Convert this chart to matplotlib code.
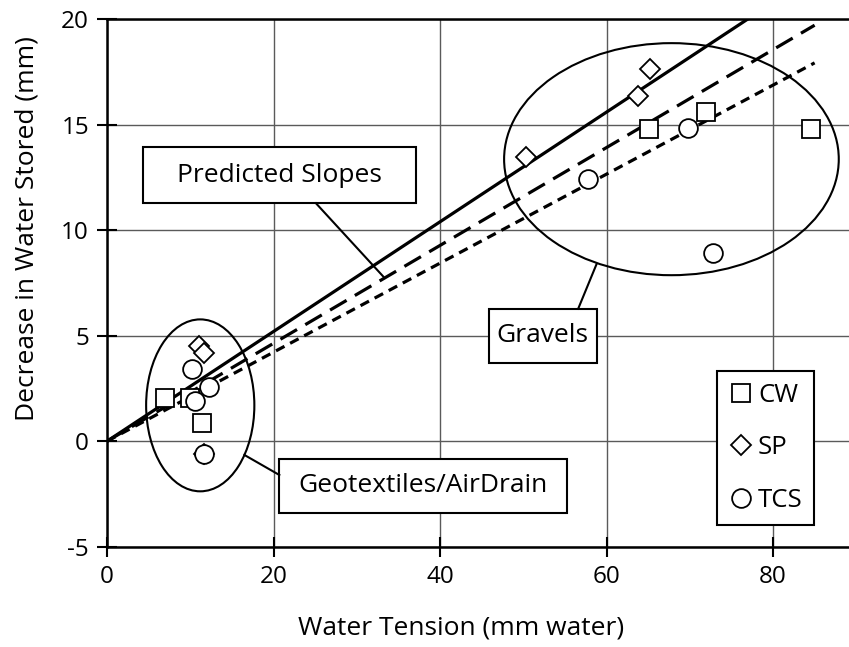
import numpy as np
import matplotlib.pyplot as plt
from matplotlib.patches import Ellipse, Rectangle

plt.rcParams['font.family'] = ['Open Sans', 'DejaVu Sans']
plt.rcParams['axes.unicode_minus'] = False

# measured points
cw_x = [7.0, 10.0, 11.4, 65.1, 72.0, 84.6]
cw_y = [2.05, 2.05, 0.85, 14.8, 15.6, 14.8]
sp_x = [11.1, 11.6, 11.7, 50.3, 63.8, 65.2]
sp_y = [4.5, 4.2, -0.6, 13.45, 16.35, 17.65]
tcs_x = [10.2, 10.6, 12.2, 11.7, 57.8, 69.8, 72.8]
tcs_y = [3.4, 1.9, 2.55, -0.6, 12.45, 14.87, 8.94]

# predicted slopes (solid, dashed, short dashed)
slopes = [0.26, 0.232, 0.211]
slope_xmax = 85
slope_styles = [None, (6, 3), (3, 2)]

fig = plt.figure(figsize=(8.49, 6.47), dpi=100)
ax = fig.add_axes([107 / 849, 100.3 / 647, 749.25 / 849, 527.4 / 647])

ax.set_xlim(0, 90)
ax.set_ylim(-5, 20)
ax.set_xticks([0, 20, 40, 60, 80])
ax.set_yticks([-5, 0, 5, 10, 15, 20])
ax.grid(True, color='#5a5a5a', lw=1.0, zorder=0)
ax.set_axisbelow(True)

for sp in ['left', 'bottom', 'top']:
    ax.spines[sp].set_linewidth(1.8)
ax.spines['right'].set_visible(False)
ax.tick_params(direction='inout', length=14, width=1.5, labelsize=17.5, pad=6)

xs = np.array([0, slope_xmax])
for s, d in zip(slopes, slope_styles):
    if d is None:
        ax.plot(xs, s * xs, color='black', lw=2.3, zorder=3)
    else:
        ax.plot(xs, s * xs, color='black', lw=2.3, dashes=d, zorder=3)

mk = dict(ls='none', mfc='white', mec='black', mew=1.3, zorder=5)
ax.plot(cw_x, cw_y, marker='s', ms=13.5, label='CW', **mk)
ax.plot(sp_x, sp_y, marker='D', ms=10.5, label='SP', **mk)
ax.plot(tcs_x, tcs_y, marker='o', ms=13.5, label='TCS', **mk)

# group outlines
ax.add_patch(Ellipse((11.2, 1.7), 13.0, 8.15, fill=False, lw=1.5, ec='black', zorder=4))
ax.add_patch(Ellipse((67.8, 13.37), 40.2, 11.0, fill=False, lw=1.5, ec='black', zorder=4))

# label boxes with leader lines
boxes = [
    ('Predicted Slopes', 4.3, 11.28, 32.8, 2.65, (25.1, 11.28), (33.2, 7.8)),
    ('Gravels', 45.9, 3.72, 12.9, 2.56, (56.6, 6.28), (58.8, 8.39)),
    ('Geotextiles/AirDrain', 20.7, -3.40, 34.5, 2.56, (20.7, -1.6), (16.5, -0.65)),
]
for txt, bx, by, bw, bh, p1, p2 in boxes:
    ax.add_patch(Rectangle((bx, by), bw, bh, fc='white', ec='black', lw=1.5, zorder=6))
    ax.text(bx + bw / 2, by + bh / 2, txt, ha='center', va='center', fontsize=19, zorder=7)
    ax.plot([p1[0], p2[0]], [p1[1], p2[1]], color='black', lw=1.5, zorder=6)

leg = ax.legend(loc='upper left', bbox_to_anchor=((717 - 107) / 749.25, (546.7 - 371) / 527.4),
                fancybox=False, edgecolor='black', framealpha=1, fontsize=18.5,
                handlelength=1.0, handletextpad=0.15, labelspacing=1.08, borderpad=0.45,
                borderaxespad=0)
leg.get_frame().set_linewidth(1.5)
leg.set_zorder(8)

ax.set_xlabel('Water Tension (mm water)', fontsize=19, va='top')
ax.xaxis.set_label_coords(0.473, -0.13)
ax.set_ylabel('Decrease in Water Stored (mm)', fontsize=19)
ax.yaxis.set_label_coords(-0.09, 0.604)

fig.savefig('out.png', dpi=100)
